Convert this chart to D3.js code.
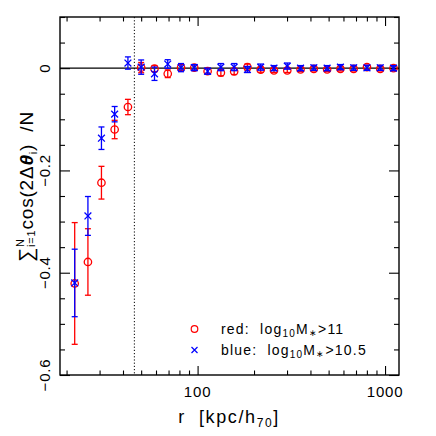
<!DOCTYPE html>
<html><head><meta charset="utf-8">
<script src="https://cdn.jsdelivr.net/npm/d3@7"></script>
<style>body{margin:0;background:#fff}svg{display:block}</style>
</head><body><svg id="c" width="436" height="436"></svg>
<script>
const radii = [22.1, 26.0, 30.7, 36.1, 42.5, 50.0, 58.9, 69.3, 81.6, 96.0, 113.1, 133.1, 156.7, 184.4, 217.1, 255.6, 300.9, 354.2, 417.0, 490.9, 577.9, 680.3, 800.8, 942.7, 1109.8];
const redValues = [-0.421, -0.379, -0.224, -0.120, -0.076, 0.001, -0.001, -0.011, 0.001, 0.001, -0.006, -0.009, -0.0065, 0.002, -0.003, -0.0045, -0.0045, -0.0026, -0.0013, -0.0026, -0.0013, -0.0013, 0.002, -0.0013, 0.0];
const redErrors = [0.119, 0.065, 0.032, 0.018, 0.015, 0.010, 0.006, 0.0075, 0.006, 0.005, 0.005, 0.006, 0.006, 0.006, 0.005, 0.004, 0.004, 0.004, 0.004, 0.004, 0.004, 0.004, 0.004, 0.004, 0.004];
const blueValues = [-0.420, -0.289, -0.137, -0.090, 0.010, 0.002, -0.011, 0.008, 0.001, 0.001, -0.006, 0.002, 0.002, -0.0026, 0.002, 0.0, 0.004, 0.0, 0.0007, 0.0, 0.002, 0.0007, 0.0007, 0.0007, 0.0];
const blueErrors = [0.066, 0.038, 0.022, 0.015, 0.012, 0.014, 0.013, 0.0085, 0.008, 0.006, 0.006, 0.007, 0.007, 0.006, 0.006, 0.005, 0.006, 0.005, 0.005, 0.005, 0.005, 0.005, 0.005, 0.005, 0.005];
const xMajorTicks = [100, 1000];
const xMinorTicks = [20, 30, 40, 50, 60, 70, 80, 90, 200, 300, 400, 500, 600, 700, 800, 900];
const yMajorTicks = [0, -0.2, -0.4, -0.6];
const yMinorTicks = [0.1, 0.05, -0.05, -0.1, -0.15, -0.25, -0.3, -0.35, -0.45, -0.5, -0.55];
const cutRadius = 46;
const legendLabels = ["red", "blue"];
const legendThresholds = ["11", "10.5"];

const FONT = "'Liberation Sans', Arial, Helvetica, sans-serif";
const RED = "#ff0000", BLUE = "#0000ff";
const L = 60, R = 399, T = 17, B = 375;

const svg = d3.select("#c");
const x = d3.scaleLog().domain([18.45, 1187]).range([L, R]);
const y = d3.scaleLinear().domain([-0.6, 0.1]).range([B, T]);

// axes: ticks inward on all four sides
function addAxis(gen, tx, ty) {
  const g = svg.append("g").attr("transform", `translate(${tx},${ty})`).call(gen);
  g.select(".domain").remove();
  g.selectAll("line").attr("stroke", "#000").attr("stroke-width", 1.1);
  g.selectAll("text").remove();
  return g;
}
addAxis(d3.axisBottom(x).tickValues(xMajorTicks).tickSize(-9), 0, B);
addAxis(d3.axisBottom(x).tickValues(xMinorTicks).tickSize(-4.5), 0, B);
addAxis(d3.axisTop(x).tickValues(xMajorTicks).tickSize(-9), 0, T);
addAxis(d3.axisTop(x).tickValues(xMinorTicks).tickSize(-4.5), 0, T);
addAxis(d3.axisLeft(y).tickValues(yMajorTicks).tickSize(-10), L, 0);
addAxis(d3.axisLeft(y).tickValues(yMinorTicks).tickSize(-5), L, 0);
addAxis(d3.axisRight(y).tickValues(yMajorTicks).tickSize(-10), R, 0);
addAxis(d3.axisRight(y).tickValues(yMinorTicks).tickSize(-5), R, 0);

// zero line and cut line
svg.append("line").attr("x1", L).attr("x2", R).attr("y1", y(0)).attr("y2", y(0))
  .attr("stroke", "#000").attr("stroke-width", 1.3);
svg.append("line").attr("x1", x(cutRadius)).attr("x2", x(cutRadius)).attr("y1", T).attr("y2", B)
  .attr("stroke", "#000").attr("stroke-width", 1).attr("stroke-dasharray", "1.2,2");

// frame
svg.append("rect").attr("x", L).attr("y", T).attr("width", R - L).attr("height", B - T)
  .attr("fill", "none").attr("stroke", "#000").attr("stroke-width", 1.4);

// tick labels
svg.append("g").selectAll("text").data(xMajorTicks).join("text")
  .attr("x", d => x(d)).attr("y", 397).attr("text-anchor", "middle")
  .attr("font-family", FONT).attr("font-size", 15).attr("letter-spacing", 0.8)
  .text(d => d3.format("d")(d));
svg.append("g").selectAll("text").data(yMajorTicks).join("text")
  .attr("transform", d => `translate(50,${y(d)}) rotate(-90)`).attr("text-anchor", "middle")
  .attr("font-family", FONT).attr("font-size", 15).attr("letter-spacing", 0.8)
  .text(d => d === 0 ? "0" : d3.format(".1f")(d).replace("-", "\u2212"));

// data
const data = radii.map((r, i) => ({ r, red: redValues[i], redE: redErrors[i], blue: blueValues[i], blueE: blueErrors[i] }));
function errBars(key, ekey, color) {
  const g = svg.append("g").attr("stroke", color).attr("stroke-width", 1.3).attr("fill", "none");
  data.forEach(d => {
    const cx = x(d.r), y1 = y(d[key] + d[ekey]), y2 = y(d[key] - d[ekey]);
    g.append("line").attr("x1", cx).attr("x2", cx).attr("y1", y1).attr("y2", y2);
    g.append("line").attr("x1", cx - 3).attr("x2", cx + 3).attr("y1", y1).attr("y2", y1);
    g.append("line").attr("x1", cx - 3).attr("x2", cx + 3).attr("y1", y2).attr("y2", y2);
  });
  return g;
}
errBars("red", "redE", RED);
svg.append("g").selectAll("circle").data(data).join("circle")
  .attr("cx", d => x(d.r)).attr("cy", d => y(d.red)).attr("r", 3.7)
  .attr("fill", "none").attr("stroke", RED).attr("stroke-width", 1.3);
errBars("blue", "blueE", BLUE);
const cross = "M-3.4,-3.4L3.4,3.4M-3.4,3.4L3.4,-3.4";
svg.append("g").selectAll("path").data(data).join("path")
  .attr("transform", d => `translate(${x(d.r)},${y(d.blue)})`).attr("d", cross)
  .attr("fill", "none").attr("stroke", BLUE).attr("stroke-width", 1.3);

// legend
const leg = svg.append("g");
leg.append("circle").attr("cx", 194.5).attr("cy", 329).attr("r", 3.3)
  .attr("fill", "none").attr("stroke", RED).attr("stroke-width", 1.2);
leg.append("path").attr("transform", "translate(194.5,350)").attr("d", "M-3,-3L3,3M-3,3L3,-3")
  .attr("fill", "none").attr("stroke", BLUE).attr("stroke-width", 1.2);
legendLabels.forEach((lab, i) => {
  const t = leg.append("text").attr("x", 221).attr("y", 333.5 + i * 21)
    .attr("font-family", FONT).attr("font-size", 14).attr("letter-spacing", 1.2)
    .attr("xml:space", "preserve");
  t.append("tspan").text(lab + ":  log");
  t.append("tspan").attr("font-size", 10).attr("dy", 3).text("10");
  t.append("tspan").attr("dy", -3).text("M");
  t.append("tspan").attr("font-size", 9).attr("dy", 2).text("\u2217");
  t.append("tspan").attr("dy", -2).text(">" + legendThresholds[i]);
});

// x label
const xl = svg.append("text").attr("x", 229).attr("y", 423).attr("text-anchor", "middle")
  .attr("font-family", FONT).attr("font-size", 18).attr("letter-spacing", 1.6)
  .attr("xml:space", "preserve");
xl.append("tspan").text("r  [kpc/h");
xl.append("tspan").attr("font-size", 12).attr("dy", 4).text("70");
xl.append("tspan").attr("dy", -4).text("]");

// y label (rotated), pieces laid out along the baseline
const yl = svg.append("g").attr("transform", "translate(33,186.5) rotate(-90)")
  .attr("font-family", FONT);
const pieces = [
  { t: "\u2211", fs: 20, dy: 0 },
  { t: "N", fs: 11, dy: -9, stack: true },
  { t: "i=1", fs: 11, dy: 1.5 },
  { t: "cos(2\u0394", fs: 19, dy: 0 },
  { t: "\u03b8", fs: 19, dy: 0, bold: true },
  { t: "i", fs: 11, dy: 4 },
  { t: ")  /N", fs: 19, dy: 0 }
];
let cx = 0, stackX = null;
const nodes = pieces.map(p => {
  const n = yl.append("text").attr("font-size", p.fs).attr("y", p.dy)
    .attr("letter-spacing", 0.8).attr("xml:space", "preserve").text(p.t);
  if (p.bold) n.attr("font-weight", "bold").attr("font-style", "italic");
  const w = n.node().getComputedTextLength();
  if (p.stack) { n.attr("x", cx); stackX = cx; }
  else if (stackX !== null) { n.attr("x", stackX); cx = stackX + w; stackX = null; }
  else { n.attr("x", cx); cx += w; }
  return n;
});
nodes.forEach(n => n.attr("x", +n.attr("x") - cx / 2));
</script></body></html>
